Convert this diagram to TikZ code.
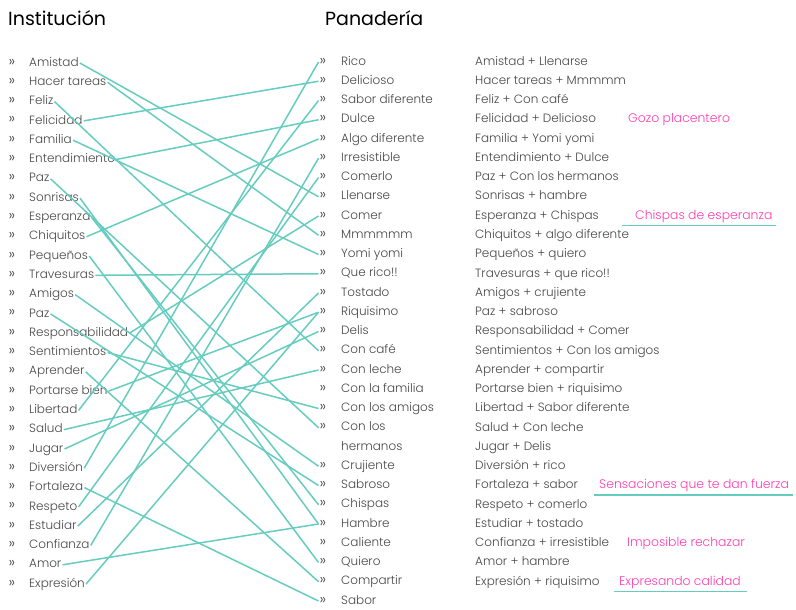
\documentclass[tikz,border=0pt]{standalone}
\usepackage{fontspec}
\setmainfont{Poppins}[UprightFont={* Light}]
\newfontfamily\headfont{Poppins}
\usetikzlibrary{positioning}
\definecolor{lineteal}{RGB}{102,204,192}
\definecolor{notepink}{RGB}{255,60,175}
\definecolor{textgray}{RGB}{70,70,70}

\begin{document}
\begin{tikzpicture}[
        x=1pt, y=-1pt,
        heading/.style={anchor=west, inner sep=0pt, font=\headfont\fontsize{19}{19}\selectfont, text=black},
        word/.style={anchor=west, inner sep=1pt, text height=1.5ex, text depth=0.35ex, font=\fontsize{12}{12}\selectfont, text=textgray},
        bullet/.style={inner sep=1pt, text height=1.3ex, text depth=0.2ex, font=\fontsize{15}{15}\selectfont, text=textgray},
        note/.style={anchor=west, inner sep=1pt, text height=1.5ex, text depth=0.35ex, font=\fontsize{12.4}{12}\selectfont, text=notepink},
        link/.style={draw=lineteal, line width=1.5pt},
        uline/.style={draw=lineteal, line width=1.5pt}
    ]
        \useasboundingbox (0,0) rectangle (796,610);
        \node[heading] (inst) at (8,18) {Institución};
        \node[heading] (pan) at (325,18) {Panadería};

        % Institución
        \foreach \w [count=\i] in {Amistad, Hacer tareas, Feliz, Felicidad, Familia, Entendimiento, Paz, Sonrisas, Esperanza, Chiquitos, Pequeños, Travesuras, Amigos, Paz, Responsabilidad, Sentimientos, Aprender, Portarse bien, Libertad, Salud, Jugar, Diversión, Fortaleza, Respeto, Estudiar, Confianza, Amor, Expresión} {
            \node[bullet] (lm\i) at (12,{63+19.3*(\i-1)}) {»};
            \node[word] (l\i) at (28,{63+19.3*(\i-1)}) {\w};
        }

        % Panadería
        \foreach \w [count=\i] in {Rico, Delicioso, Sabor diferente, Dulce, Algo diferente, Irresistible, Comerlo, Llenarse, Comer, Mmmmmm, Yomi yomi, Que rico!!, Tostado, Riquisimo, Delis, Con café, Con leche, Con la familia, Con los amigos, Con los, hermanos, Crujiente, Sabroso, Chispas, Hambre, Caliente, Quiero, Compartir, Sabor} {
            \ifnum\i=21\else
                \node[bullet] (rm\i) at (323,{62+19.25*(\i-1)}) {»};
            \fi
            \node[word] (r\i) at (340,{62+19.25*(\i-1)}) {\w};
        }

        % parejas
        \foreach \w [count=\i] in {Amistad + Llenarse, Hacer tareas + Mmmmm, Feliz + Con café, Felicidad + Delicioso, Familia + Yomi yomi, Entendimiento + Dulce, Paz + Con los hermanos, Sonrisas + hambre, Esperanza + Chispas, Chiquitos + algo diferente, Pequeños + quiero, Travesuras + que rico!!, Amigos + crujiente, Paz + sabroso, Responsabilidad + Comer, Sentimientos + Con los amigos, Aprender + compartir, Portarse bien + riquisimo, Libertad + Sabor diferente, Salud + Con leche, Jugar + Delis, Diversión + rico, Fortaleza + sabor, Respeto + comerlo, Estudiar + tostado, Confianza + irresistible, Amor + hambre, Expresión + riquisimo} {
            \node[word] (p\i) at (474,{62+19.26*(\i-1)}) {\w};
        }

        \node[note] (n1) at (627,{62+19.26*3}) {Gozo placentero};
        \node[note] (n2) at (634,{62+19.26*8}) {Chispas de esperanza};
        \node[note] (n3) at (598,{62+19.26*22}) {Sensaciones que te dan fuerza};
        \node[note] (n4) at (626,{62+19.26*25}) {Imposible rechazar};
        \node[note] (n5) at (618,{62+19.26*27}) {Expresando calidad};

        \draw[uline] ([xshift=-12pt,yshift=-3pt]n2.south west) -- ([xshift=2pt,yshift=-3pt]n2.south east);
        \draw[uline] ([xshift=-4pt,yshift=-3pt]n3.south west) -- ([xshift=3pt,yshift=-3pt]n3.south east);
        \draw[uline] ([xshift=-4pt,yshift=-3pt]n5.south west) -- ([xshift=5pt,yshift=-3pt]n5.south east);

        % uniones
        \foreach \a/\b in {1/8, 2/10, 3/16, 4/2, 5/11, 6/4, 7/20, 8/25, 9/24, 10/5, 11/27, 12/12, 13/22, 14/23, 15/9, 16/19, 17/28, 18/14, 19/3, 20/17, 21/15, 22/1, 23/29, 24/7, 25/13, 26/6, 27/25, 28/14}
            \draw[link] (l\a.east) -- (rm\b.west);
    \end{tikzpicture}
\end{document}
